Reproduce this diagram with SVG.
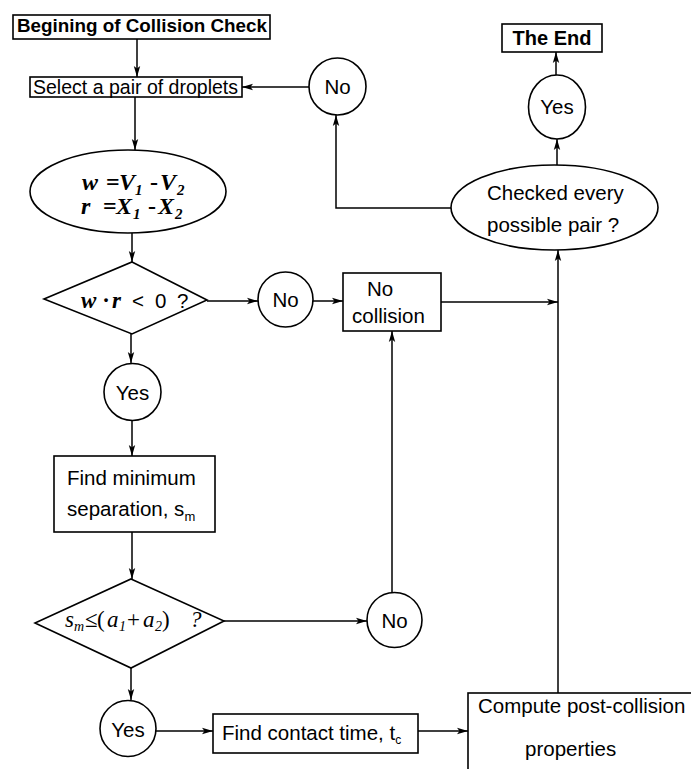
<svg xmlns="http://www.w3.org/2000/svg" width="691" height="769" viewBox="0 0 691 769">
<defs>
<marker id="ah" markerWidth="12" markerHeight="8" refX="11" refY="4" orient="auto" markerUnits="userSpaceOnUse">
<path d="M0,0.8 L11,4 L0,7.2 L2.5,4 Z" fill="#000"/>
</marker>
<style>
.s{fill:#fff;stroke:#000;stroke-width:1.6}
.t{font-family:"Liberation Sans",Arial,sans-serif;font-size:20.5px;fill:#000}
.b{font-family:"Liberation Sans",Arial,sans-serif;font-weight:bold;fill:#000}
.m{font-family:"Liberation Serif","Times New Roman",serif;font-style:italic;fill:#000}
.mb{font-family:"Liberation Serif","Times New Roman",serif;font-style:italic;font-weight:bold;fill:#000}
.c line,.c polyline{fill:none;stroke:#000;stroke-width:1.5;marker-end:url(#ah)}
</style>
</defs>
<rect width="691" height="769" fill="#fff"/>
<g class="c" id="connectors">
<line x1="137" y1="39" x2="137" y2="77"/>
<line x1="135" y1="97" x2="135" y2="150"/>
<line x1="132" y1="233" x2="132" y2="262"/>
<line x1="207" y1="301" x2="258" y2="301"/>
<line x1="313" y1="301" x2="343" y2="301"/>
<line x1="441" y1="302" x2="558" y2="302"/>
<line x1="131" y1="334" x2="131" y2="363"/>
<line x1="132" y1="421" x2="132" y2="456"/>
<line x1="132" y1="532" x2="132" y2="579"/>
<line x1="224" y1="621" x2="367" y2="621"/>
<line x1="392" y1="592" x2="392" y2="331"/>
<line x1="131" y1="668" x2="131" y2="700"/>
<line x1="156" y1="731" x2="213" y2="731"/>
<line x1="418" y1="731" x2="468" y2="731"/>
<line x1="558" y1="693" x2="558" y2="250"/>
<line x1="557" y1="165" x2="557" y2="139"/>
<line x1="556" y1="75" x2="556" y2="52"/>
<polyline points="451,208 336,208 336,115"/>
<line x1="309" y1="87" x2="242" y2="87"/>
</g>
<g id="begin">
<rect class="s" x="13" y="15" width="257" height="24"/>
<text class="b" x="17" y="32" font-size="18.5" textLength="250" lengthAdjust="spacingAndGlyphs">Begining of Collision Check</text>
</g>
<g id="select">
<rect class="s" x="30" y="77" width="212" height="20"/>
<text class="t" x="33" y="93.5" font-size="19" textLength="205" lengthAdjust="spacingAndGlyphs">Select a pair of droplets</text>
</g>
<g id="vectors">
<ellipse class="s" cx="128" cy="191.5" rx="98" ry="41.5"/>
<text class="mb" font-size="24" y="190"><tspan x="82">w</tspan><tspan x="106" font-style="normal">=</tspan><tspan x="119">V</tspan><tspan x="135" dy="5" font-size="15">1</tspan><tspan x="150" dy="-5" font-style="normal">-</tspan><tspan x="160">V</tspan><tspan x="177" dy="5" font-size="15">2</tspan></text>
<text class="mb" font-size="24" y="214"><tspan x="81">r</tspan><tspan x="103" font-style="normal">=</tspan><tspan x="116">X</tspan><tspan x="133" dy="5" font-size="15">1</tspan><tspan x="148" dy="-5" font-style="normal">-</tspan><tspan x="158">X</tspan><tspan x="175" dy="5" font-size="15">2</tspan></text>
</g>
<g id="dot-test">
<polygon class="s" points="132,262 207,300 132,334 44,299"/>
<text y="308"><tspan class="mb" font-size="23" x="81">w</tspan><tspan class="mb" font-size="23" x="103">·</tspan><tspan class="mb" font-size="23" x="112">r</tspan><tspan class="t" font-size="19" x="132">&lt;</tspan><tspan class="t" font-size="19" x="155">0</tspan><tspan class="t" font-size="19" x="177">?</tspan></text>
</g>
<g id="no-a">
<circle class="s" cx="285.5" cy="299.5" r="27.5"/>
<text class="t" x="285.5" y="307" text-anchor="middle">No</text>
</g>
<g id="no-collision">
<rect class="s" x="343" y="273" width="98" height="58"/>
<text class="t" x="367" y="296">No</text>
<text class="t" x="352" y="323">collision</text>
</g>
<g id="yes-a">
<circle class="s" cx="132.5" cy="392" r="28.5"/>
<text class="t" x="132.5" y="400" text-anchor="middle">Yes</text>
</g>
<g id="find-min">
<rect class="s" x="54" y="456" width="161" height="76"/>
<text class="t" x="67" y="485">Find minimum</text>
<text class="t" x="67" y="516">separation, s<tspan font-size="13" dy="5">m</tspan></text>
</g>
<g id="radius-test">
<polygon class="s" points="131,579 224,621 131,668 35,623"/>
<text class="m" font-size="23" y="627"><tspan x="65">s</tspan><tspan x="74" dy="4" font-size="14">m</tspan><tspan x="85" dy="-4" font-style="normal">≤</tspan><tspan x="97" font-style="normal">(</tspan><tspan x="107">a</tspan><tspan x="119" dy="4" font-size="14">1</tspan><tspan x="127" dy="-4" font-style="normal">+</tspan><tspan x="143">a</tspan><tspan x="155" dy="4" font-size="14">2</tspan><tspan x="162" dy="-4" font-style="normal">)</tspan><tspan x="190">?</tspan></text>
</g>
<g id="no-b">
<circle class="s" cx="394.5" cy="620" r="27.5"/>
<text class="t" x="394.5" y="628" text-anchor="middle">No</text>
</g>
<g id="yes-b">
<circle class="s" cx="128" cy="728.5" r="28"/>
<text class="t" x="128" y="737" text-anchor="middle">Yes</text>
</g>
<g id="find-contact">
<rect class="s" x="213" y="714" width="205" height="39"/>
<text class="t" x="222" y="740">Find contact time, t<tspan font-size="12" dy="4">c</tspan></text>
</g>
<g id="compute">
<rect class="s" x="468" y="693" width="240" height="100"/>
<text class="t" x="478" y="713">Compute post-collision</text>
<text class="t" x="525" y="756">properties</text>
</g>
<g id="checked">
<ellipse class="s" cx="554.5" cy="207.5" rx="103.5" ry="42.5"/>
<text class="t" x="487" y="200">Checked every</text>
<text class="t" x="487" y="232">possible pair ?</text>
</g>
<g id="yes-c">
<ellipse class="s" cx="557" cy="107" rx="28.5" ry="32"/>
<text class="t" x="557" y="114" text-anchor="middle">Yes</text>
</g>
<g id="no-c">
<circle class="s" cx="337.5" cy="86.5" r="28.5"/>
<text class="t" x="337.5" y="94" text-anchor="middle">No</text>
</g>
<g id="end">
<rect class="s" x="502" y="24" width="100" height="28"/>
<text class="b" x="552" y="45" font-size="20" text-anchor="middle">The End</text>
</g>
</svg>
